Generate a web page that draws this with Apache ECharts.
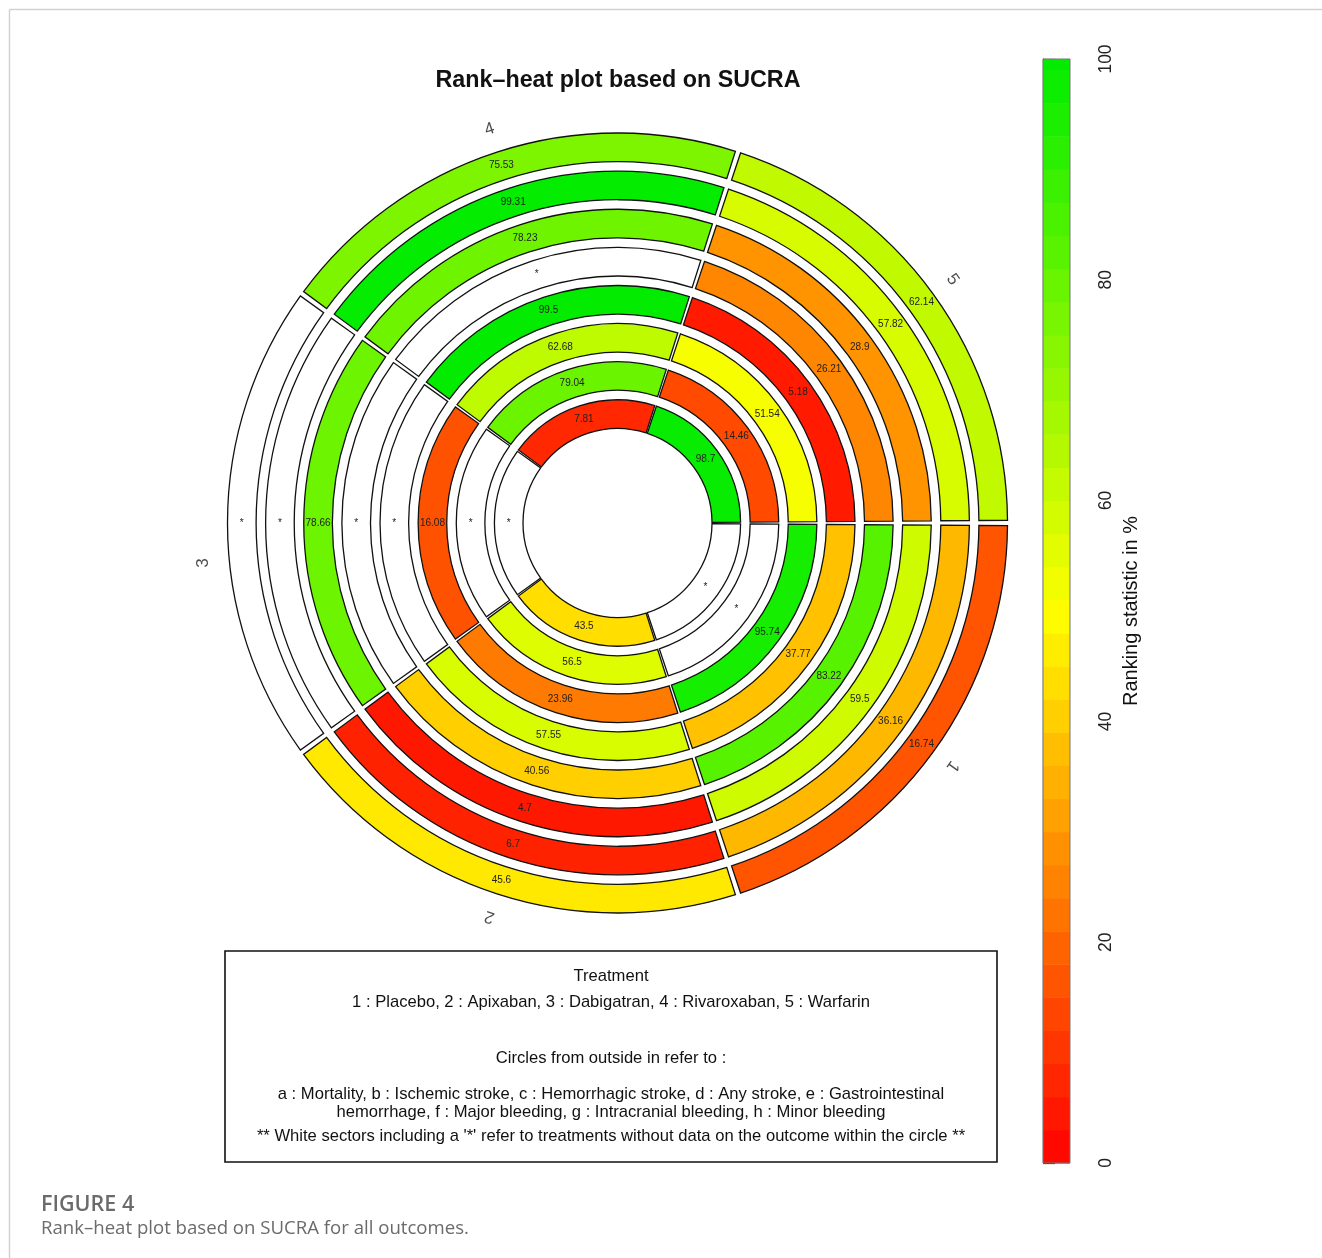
<!DOCTYPE html>
<html>
<head>
<meta charset="utf-8">
<title>Rank-heat plot</title>
<script src="https://cdn.jsdelivr.net/npm/echarts@6/dist/echarts.min.js"></script>
<style>
  html, body { margin: 0; padding: 0; background: #fff; }
  #chart { width: 1322px; height: 1258px; }
</style>
</head>
<body>
<div id="chart"></div>
<script>
// treatments (sectors, clockwise from 3 o'clock)
var treatments = ['1', '2', '3', '4', '5'];
var treatmentNames = ['Placebo', 'Apixaban', 'Dabigatran', 'Rivaroxaban', 'Warfarin'];

// SUCRA (%) per outcome, order = treatments 1..5, null = no data (*)
var mortality         = [16.74, 45.6, null, 75.53, 62.14];   // a
var ischemicStroke    = [36.16, 6.7, null, 99.31, 57.82];    // b
var hemorrhagicStroke = [59.5, 4.7, 78.66, 78.23, 28.9];     // c
var anyStroke         = [83.22, 40.56, null, null, 26.21];   // d
var giHemorrhage      = [37.77, 57.55, null, 99.5, 5.18];    // e
var majorBleeding     = [95.74, 23.96, 16.08, 62.68, 51.54]; // f
var intracranial      = [null, 56.5, null, 79.04, 14.46];    // g
var minorBleeding     = [null, 43.5, null, 7.81, 98.7];      // h

var colorbarTicks = [0, 20, 40, 60, 80, 100];

// circles from inside out
var rings = [minorBleeding, intracranial, majorBleeding, giHemorrhage,
             anyStroke, hemorrhagicStroke, ischemicStroke, mortality];

var RING_W = 0.75;   // ring thickness (radius units)
var RING_GAP = 0.25; // white gap between rings
var LABEL_R = 8.38;  // treatment number radius

// red -> yellow -> green, like the R palette
function heat(v) {
    var r, g;
    if (v <= 50) {
        r = 255;
        g = Math.round(v / 50 * 255);
    } else {
        r = Math.round((100 - v) / 50 * 255);
        g = Math.round(255 - (v - 50) / 50 * 19);
    }
    return 'rgb(' + r + ',' + g + ',0)';
}

var series = [];
for (var i = 0; i < rings.length; i++) {
    if (i > 0) {
        series.push({
            type: 'bar',
            coordinateSystem: 'polar',
            stack: 'rings',
            silent: true,
            barCategoryGap: '1.1%',
            itemStyle: { color: 'rgba(0,0,0,0)' },
            data: treatments.map(function () { return RING_GAP; })
        });
    }
    series.push({
        type: 'bar',
        coordinateSystem: 'polar',
        stack: 'rings',
        barCategoryGap: '1.1%',
        itemStyle: { borderColor: '#111', borderWidth: 1.3 },
        label: {
            show: true,
            position: 'middle',
            rotate: 0,
            color: '#222',
            fontSize: 10,
            fontFamily: 'Liberation Sans',
            textBorderWidth: 0,
            formatter: function (p) {
                return p.data.sucra == null ? '*' : String(p.data.sucra);
            }
        },
        data: rings[i].map(function (v) {
            return {
                value: RING_W,
                sucra: v,
                itemStyle: { color: v == null ? '#ffffff' : heat(v) }
            };
        })
    });
}

// treatment numbers around the circle, turned to face outwards
series.push({
    type: 'scatter',
    coordinateSystem: 'polar',
    symbolSize: 0,
    silent: true,
    label: {
        show: true,
        position: 'inside',
        color: '#222',
        fontSize: 17,
        fontFamily: 'Liberation Sans',
        formatter: '{b}'
    },
    data: treatments.map(function (t, k) {
        var theta = -(36 + 72 * k);
        var lab = { rotate: theta - 90 };
        if (t === '3') lab.offset = [-40, 0];
        return { name: t, value: [LABEL_R, k], label: lab };
    })
});

// colour key blocks
var colorBlocks = [];
for (var lo = 0; lo < 100; lo += 3) {
    colorBlocks.push([lo, Math.min(lo + 3, 100)]);
}
series.push({
    type: 'custom',
    xAxisIndex: 0,
    yAxisIndex: 0,
    silent: true,
    data: colorBlocks,
    renderItem: function (params, api) {
        var p0 = api.coord([0, api.value(0)]);
        var p1 = api.coord([1, api.value(1)]);
        return {
            type: 'rect',
            shape: { x: p0[0], y: p1[1], width: p1[0] - p0[0], height: p0[1] - p1[1] + 0.5 },
            style: { fill: heat((api.value(0) + api.value(1)) / 2) }
        };
    }
});

var legendFont = "16.6px 'Liberation Sans', sans-serif";
function legendText(str, y) {
    return {
        type: 'text', x: 611, y: y,
        style: { text: str, textAlign: 'center', textVerticalAlign: 'middle', font: legendFont, fill: '#111' }
    };
}

var myChart = echarts.init(document.getElementById('chart'));
var option = {
    backgroundColor: '#fff',
    animation: false,
    title: {
        text: 'Rank\u2013heat plot based on SUCRA',
        left: 613,
        top: 64,
        textAlign: 'center',
        textStyle: { fontSize: 23.3, fontWeight: 'bold', color: '#111', fontFamily: 'Liberation Sans' }
    },
    polar: {
        center: [617.5, 523],
        radius: [94.5, 418.6]
    },
    angleAxis: {
        type: 'category',
        data: treatments,
        startAngle: 0,
        clockwise: true,
        axisLine: { show: false },
        axisTick: { show: false },
        axisLabel: { show: false },
        splitLine: { show: false }
    },
    radiusAxis: {
        type: 'value',
        min: 0,
        max: 8.5,
        axisLine: { show: false },
        axisTick: { show: false },
        axisLabel: { show: false },
        splitLine: { show: false }
    },
    grid: { left: 1043, top: 59, width: 27, height: 1104 },
    xAxis: { type: 'value', min: 0, max: 1, show: false },
    yAxis: {
        type: 'value',
        position: 'right',
        min: 0,
        max: 100,
        interval: 20,
        name: 'Ranking statistic in %',
        nameLocation: 'middle',
        nameRotate: 90,
        nameGap: 51,
        nameTextStyle: { fontSize: 20, color: '#111', fontFamily: 'Liberation Sans' },
        axisLine: { show: true, lineStyle: { color: '#111', width: 1.2 } },
        axisTick: { show: true, length: 12, lineStyle: { color: '#111', width: 1.2 } },
        axisLabel: {
            rotate: 90, margin: 27, fontSize: 17.5, color: '#222', fontFamily: 'Liberation Sans',
            formatter: function (v) { return colorbarTicks.indexOf(v) >= 0 ? String(v) : ''; }
        },
        splitLine: { show: false }
    },
    graphic: [
        { type: 'line', shape: { x1: 9.5, y1: 9.5, x2: 1322, y2: 9.5 }, style: { stroke: '#d2d2d2', lineWidth: 1.5 } },
        { type: 'line', shape: { x1: 9.5, y1: 9.5, x2: 9.5, y2: 1258 }, style: { stroke: '#d2d2d2', lineWidth: 1.5 } },
        { type: 'rect', shape: { x: 1043, y: 59, width: 27, height: 1104 }, style: { fill: null, stroke: '#777', lineWidth: 1 }, z: 10 },
        { type: 'rect', shape: { x: 225, y: 951, width: 772, height: 211 }, style: { fill: null, stroke: '#111', lineWidth: 1.6 } },
        legendText('Treatment', 976),
        legendText(treatments.map(function (t, k) { return t + ' : ' + treatmentNames[k]; }).join(', '), 1002),
        legendText('Circles from outside in refer to :', 1058),
        legendText('a : Mortality, b : Ischemic stroke, c : Hemorrhagic stroke, d : Any stroke, e : Gastrointestinal', 1094),
        legendText('hemorrhage, f : Major bleeding, g : Intracranial bleeding, h : Minor bleeding', 1112),
        legendText("** White sectors including a '*' refer to treatments without data on the outcome within the circle **", 1136),
        {
            type: 'text', x: 41, y: 1205,
            style: { text: 'FIGURE 4', textVerticalAlign: 'middle', font: "600 21.5px 'Open Sans', sans-serif", fill: '#6b6b6b' }
        },
        {
            type: 'text', x: 41, y: 1229,
            style: { text: 'Rank\u2013heat plot based on SUCRA for all outcomes.', textVerticalAlign: 'middle', font: "18.6px 'Open Sans', sans-serif", fill: '#6b6b6b' }
        }
    ],
    series: series
};
myChart.setOption(option);
</script>
</body>
</html>
